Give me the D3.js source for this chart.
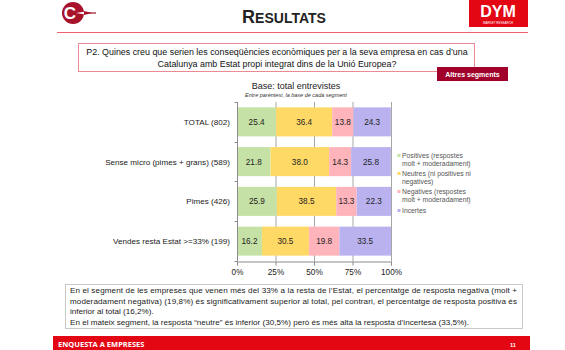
<!DOCTYPE html>
<html><head><meta charset="utf-8">
<script src="https://cdn.jsdelivr.net/npm/d3@7"></script>
<style>body{margin:0;background:#fff;font-family:"Liberation Sans",Arial,sans-serif}</style>
</head><body>
<svg id="c" width="565" height="350"></svg>
<script>
const categories = ["TOTAL (802)", "Sense micro (pimes + grans) (589)", "Pimes (426)", "Vendes resta Estat >=33% (199)"];
const seriesNames = ["Positives", "Neutres", "Negatives", "Incertes"];
const positives = [25.4, 21.8, 25.9, 16.2];
const neutres = [36.4, 38.0, 38.5, 30.5];
const negatives = [13.8, 14.3, 13.3, 19.8];
const incertes = [24.3, 25.8, 22.3, 33.5];
const xTicks = [0, 25, 50, 75, 100];
const legendLines = [["Positives (respostes", "molt + moderadament)"], ["Neutres (ni positives ni", "negatives)"], ["Negatives (respostes", "molt + moderadament)"], ["Incertes"]];
const colors = ["#c5e1a5", "#ffd966", "#ffb3ba", "#b9b2ef"];

const svg = d3.select("#c");
const font = '"Liberation Sans",Arial,sans-serif';

// Header
const logo = svg.append("g");
logo.append("circle").attr("cx", 73).attr("cy", 13).attr("r", 11).attr("fill", "#a8122a");
logo.append("text").attr("x", 70).attr("y", 19).attr("text-anchor", "middle").attr("font-family", font).attr("font-weight", "bold").attr("font-size", 17).attr("fill", "#fff").text("C");
logo.append("path").attr("d", "M76,13 L88,11 L92,13 L88,15 Z").attr("fill", "#fff");
logo.append("path").attr("d", "M84,11 L92,13 L84,15 Z").attr("fill", "#a8122a");
logo.append("line").attr("x1", 88).attr("x2", 96).attr("y1", 13).attr("y2", 13).attr("stroke", "#a8122a").attr("stroke-width", 1.2);

const title = svg.append("text").attr("x", 284).attr("y", 23).attr("text-anchor", "middle").attr("font-family", font).attr("font-weight", "bold").attr("fill", "#222");
title.append("tspan").attr("font-size", 18).text("R");
title.append("tspan").attr("font-size", 14).text("ESULTATS");

svg.append("rect").attr("x", 469).attr("y", 0).attr("width", 59).attr("height", 27).attr("fill", "#e30613");
svg.append("text").attr("x", 498).attr("y", 17).attr("text-anchor", "middle").attr("font-family", font).attr("font-weight", "bold").attr("font-size", 16).attr("fill", "#fff").text("DYM");
svg.append("text").attr("x", 498).attr("y", 23.5).attr("text-anchor", "middle").attr("font-family", font).attr("font-size", 3).attr("fill", "#fff").text("MARKET RESEARCH");

svg.append("line").attr("x1", 57).attr("x2", 528).attr("y1", 32.5).attr("y2", 32.5).attr("stroke", "#f0606e").attr("stroke-width", 1);

// Question box
svg.append("rect").attr("x", 78.5).attr("y", 43.5).attr("width", 396).attr("height", 28).attr("fill", "#fff").attr("stroke", "#eb8a92").attr("stroke-width", 1);
svg.append("text").attr("x", 277).attr("y", 54.5).attr("text-anchor", "middle").attr("font-family", font).attr("font-size", 8.9).attr("fill", "#111").text("P2. Quines creu que serien les conseqüències econòmiques per a la seva empresa en cas d’una");
svg.append("text").attr("x", 277).attr("y", 66.5).attr("text-anchor", "middle").attr("font-family", font).attr("font-size", 8.9).attr("fill", "#111").text("Catalunya amb Estat propi integrat dins de la Unió Europea?");

svg.append("rect").attr("x", 437).attr("y", 67).attr("width", 71).attr("height", 14).attr("fill", "#a0002a");
svg.append("text").attr("x", 472.5).attr("y", 76.5).attr("text-anchor", "middle").attr("font-family", font).attr("font-weight", "bold").attr("font-size", 7).attr("fill", "#fff").text("Altres segments");

svg.append("text").attr("x", 296).attr("y", 89).attr("text-anchor", "middle").attr("font-family", font).attr("font-size", 9).attr("fill", "#222").text("Base: total entrevistes");
svg.append("text").attr("x", 296).attr("y", 96.5).attr("text-anchor", "middle").attr("font-family", font).attr("font-style", "italic").attr("font-size", 5.5).attr("fill", "#333").text("Entre parèntesi, la base de cada segment");

// Chart
const x = d3.scaleLinear().domain([0, 100]).range([237, 391]);
const y = d3.scaleBand().domain(categories).range([102, 261]).paddingInner(0.27).paddingOuter(0.135);

const g = svg.append("g");
// gridlines
g.selectAll("line.grid").data(xTicks.slice(1)).join("line")
  .attr("x1", d => x(d) + 0.5).attr("x2", d => x(d) + 0.5).attr("y1", 102).attr("y2", 261)
  .attr("stroke", "#a6a6a6").attr("stroke-width", 1);

const series = [positives, neutres, negatives, incertes];
const data = categories.map((c, i) => {
  let acc = 0;
  return series.map((s, k) => { const d = {cat: c, k, v: s[i], x0: acc}; acc += s[i]; d.x1 = acc; return d; });
});
const rows = g.selectAll("g.row").data(data).join("g");
rows.selectAll("rect").data(d => d).join("rect")
  .attr("x", d => x(d.x0)).attr("width", d => x(Math.min(d.x1, 100)) - x(d.x0))
  .attr("y", d => y(d.cat)).attr("height", y.bandwidth())
  .attr("fill", d => colors[d.k]);
rows.selectAll("text").data(d => d).join("text")
  .attr("x", d => x((d.x0 + Math.min(d.x1, 100)) / 2)).attr("y", d => y(d.cat) + y.bandwidth() / 2 + 3)
  .attr("text-anchor", "middle").attr("font-family", font).attr("font-size", 8.2).attr("fill", "#222")
  .text(d => d.v.toFixed(1));

// y axis
const yAxis = g.append("g").attr("transform", "translate(237.5,0)");
yAxis.append("line").attr("x1", 0).attr("x2", 0).attr("y1", 102).attr("y2", 261).attr("stroke", "#8c8c8c");
const bounds = [102].concat(categories.map(c => y(c) + y.step() - y.paddingInner() * y.step() / 2));
yAxis.selectAll("line.t").data(bounds).join("line").attr("x1", -3).attr("x2", 0).attr("y1", d => Math.round(d) + 0.5).attr("y2", d => Math.round(d) + 0.5).attr("stroke", "#8c8c8c");
g.selectAll("text.cat").data(categories).join("text")
  .attr("x", 230).attr("y", d => y(d) + y.bandwidth() / 2 + 3)
  .attr("text-anchor", "end").attr("font-family", font).attr("font-size", 8.1).attr("fill", "#222").text(d => d);

// x axis
const xAxis = g.append("g").attr("transform", "translate(0,261.5)")
  .call(d3.axisBottom(x).tickValues(xTicks).tickFormat(d => d + "%").tickSize(4).tickPadding(4));
xAxis.select(".domain").attr("stroke", "#8c8c8c");
xAxis.selectAll(".tick line").attr("stroke", "#8c8c8c");
xAxis.selectAll("text").attr("font-family", font).attr("font-size", 8.2).attr("fill", "#222");

// Legend
const leg = svg.append("g");
const legY = [157, 175, 193, 212];
legendLines.forEach((lines, i) => {
  leg.append("rect").attr("x", 397.5).attr("y", legY[i] - 3).attr("width", 3).attr("height", 3).attr("fill", colors[i]);
  lines.forEach((t, j) => {
    leg.append("text").attr("x", 402).attr("y", legY[i] + 1 + j * 8).attr("font-family", font).attr("font-size", 6.8).attr("fill", "#555").text(t);
  });
});

// Text box
svg.append("rect").attr("x", 65.5).attr("y", 284.5).attr("width", 457).attr("height", 44).attr("fill", "#fff").attr("stroke", "#c8c8c8").attr("stroke-width", 1);
const para = [
  ["En el segment de les empreses que venen més del 33% a la resta de l’Estat, el percentatge de resposta negativa (molt +", true],
  ["moderadament negativa) (19,8%) és significativament superior al total, pel contrari, el percentatge de resposta positiva és", true],
  ["inferior al total (16,2%).", false],
  ["En el mateix segment, la resposta “neutre” és inferior (30,5%) però és més alta la resposta d’incertesa (33,5%).", false]
];
const pty = [293, 303.5, 314, 324.5];
para.forEach((p, i) => {
  const t = svg.append("text").attr("x", 70).attr("y", pty[i]).attr("font-family", font).attr("font-size", 8.1).attr("fill", "#222").text(p[0]);
  if (p[1]) t.attr("textLength", 447).attr("lengthAdjust", "spacing");
});

// Footer
svg.append("rect").attr("x", 53).attr("y", 336).attr("width", 477).attr("height", 14).attr("fill", "#e30613");
svg.append("text").attr("x", 58).attr("y", 346.5).attr("font-family", '"Open Sans",' + font).attr("font-weight", "bold").attr("font-size", 7.5).attr("fill", "#fff").text("ENQUESTA A EMPRESES");
svg.append("text").attr("x", 510).attr("y", 346.5).attr("font-family", font).attr("font-weight", "bold").attr("font-size", 5.5).attr("fill", "#fff").text("11");
</script>
</body></html>
